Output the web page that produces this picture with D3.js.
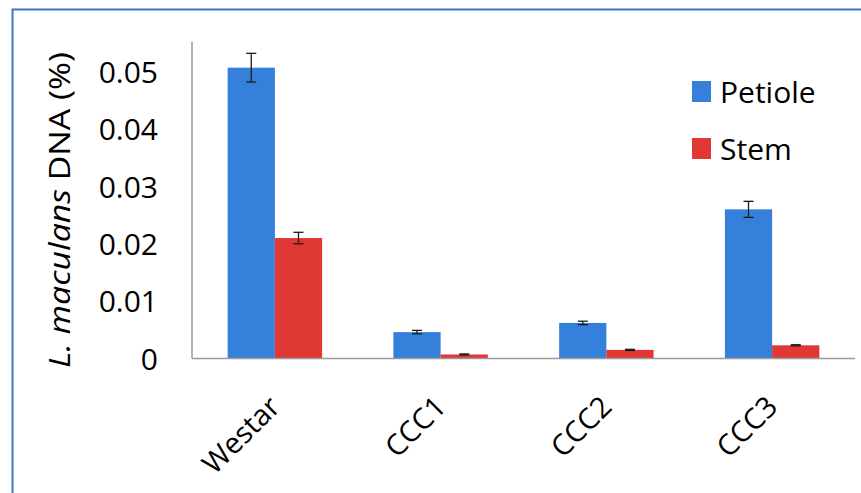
<!DOCTYPE html>
<html><head><meta charset="utf-8">
<script src="https://cdn.jsdelivr.net/npm/d3@7"></script>
<style>body{margin:0;background:#fff}svg{display:block}text{font-family:"Open Sans",sans-serif;fill:#000}</style>
</head><body><svg id="c" width="861" height="493"></svg>
<script>
const categories = ["Westar","CCC1","CCC2","CCC3"];
const seriesNames = ["Petiole","Stem"];
const petiole = [0.0507,0.0046,0.0062,0.0260];
const petioleErr = [0.0025,0.0003,0.0003,0.0014];
const stem = [0.0210,0.0007,0.0015,0.0023];
const stemErr = [0.0010,0.0001,0.0001,0.0001];
const yTicks = [0,0.01,0.02,0.03,0.04,0.05];
const colors = ["#3580DB","#E03933"];

const svg = d3.select("#c");
svg.append("rect").attr("x",12.5).attr("y",9.5).attr("width",900).attr("height",600)
  .attr("fill","none").attr("stroke","#4472C4").attr("stroke-width",2);

const x0 = 192, x1 = 855, yb = 358.5, yt = 43;
const x = d3.scaleBand().domain(categories).range([x0,x1]).paddingInner(0.43).paddingOuter(0.215);
const xs = d3.scaleBand().domain(seriesNames).range([0,x.bandwidth()]);
const y = d3.scaleLinear().domain([0,0.055]).range([yb,yt]);

const data = [petiole, stem];
const errs = [petioleErr, stemErr];

seriesNames.forEach((s,si)=>{
  svg.append("g").selectAll("rect").data(categories).join("rect")
    .attr("x",c=>x(c)+xs(s)).attr("width",xs.bandwidth())
    .attr("y",(c,i)=>y(data[si][i])).attr("height",(c,i)=>yb-y(data[si][i]))
    .attr("fill",colors[si]);
});
seriesNames.forEach((s,si)=>{
  const g = svg.append("g").attr("stroke","#1a1a1a").attr("stroke-width",1.3);
  categories.forEach((c,i)=>{
    const cx = x(c)+xs(s)+xs.bandwidth()/2;
    const v = data[si][i], e = errs[si][i];
    g.append("line").attr("x1",cx).attr("x2",cx).attr("y1",y(v+e)).attr("y2",y(v-e));
    g.append("line").attr("x1",cx-5).attr("x2",cx+5).attr("y1",y(v+e)).attr("y2",y(v+e));
    g.append("line").attr("x1",cx-5).attr("x2",cx+5).attr("y1",y(v-e)).attr("y2",y(v-e));
  });
});

svg.append("line").attr("x1",x0).attr("x2",x0).attr("y1",yt-1).attr("y2",yb).attr("stroke","#9a9a9a").attr("stroke-width",1.5);
svg.append("line").attr("x1",x0).attr("x2",x1).attr("y1",yb).attr("y2",yb).attr("stroke","#9a9a9a").attr("stroke-width",1.5);

const yAxis = d3.axisLeft(y).tickValues(yTicks).tickSize(0).tickPadding(34).tickFormat(d=>d===0?"0":d3.format(".2f")(d));
const ya = svg.append("g").attr("transform",`translate(${x0},0)`).call(yAxis);
ya.select(".domain").remove();
ya.selectAll("text").style("font-family","'Open Sans',sans-serif").style("font-size","30px").attr("fill","#000").attr("dy","0.36em");

svg.append("g").selectAll("text").data(categories).join("text")
  .attr("transform",c=>`translate(${x(c)+x.bandwidth()/2+7},${yb+50}) rotate(-45)`)
  .attr("text-anchor","end").style("font-size","29px").text(d=>d);

const t = svg.append("text").attr("transform",`translate(70,210) rotate(-90)`)
  .attr("text-anchor","middle").style("font-size","29px")
  .attr("textLength",316).attr("lengthAdjust","spacingAndGlyphs");
t.append("tspan").style("font-style","italic").text("L. maculans");
t.append("tspan").text(" DNA (%)");

const lg = svg.append("g").attr("transform","translate(692,81)");
seriesNames.forEach((s,i)=>{
  lg.append("rect").attr("x",0).attr("y",i*57).attr("width",19).attr("height",21).attr("fill",colors[i]);
  lg.append("text").attr("x",28).attr("y",i*57+22).style("font-size","30px").text(s);
});
</script></body></html>
